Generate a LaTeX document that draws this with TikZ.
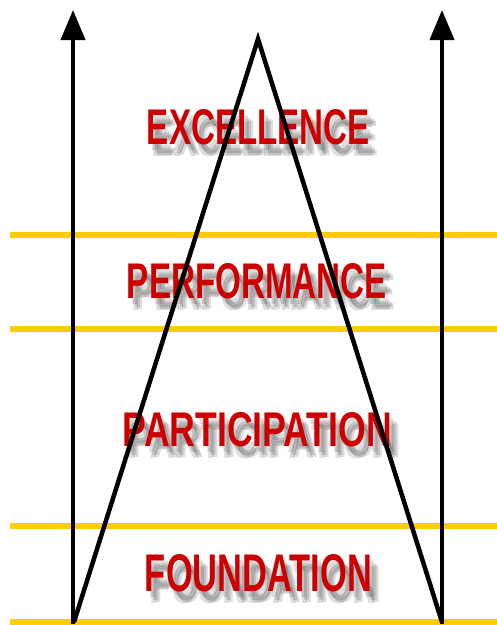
\documentclass[tikz,border=0pt]{standalone}
\usepackage{fontspec}
\setmainfont{Liberation Sans}
\usetikzlibrary{arrows.meta}
\definecolor{gold}{HTML}{FFCC00}
\definecolor{lblred}{HTML}{CC0000}
\tikzset{
  band/.style={gold,line width=6},
  axis/.style={line width=4,-{Triangle[width=24,length=30]}},
  side/.style={line width=4.5,line join=miter},
  shadowtxt/.style={inner sep=0,text=black,opacity=0.13},
  lbl/.style={inner sep=0,text=lblred}
}
\newcommand\pyrlabel[6]{%
  \foreach \dx/\dy in {4/6,7/9,5/12,9/11}{%
    \node[shadowtxt] at (#2+\dx,#3+\dy) {\resizebox{#4pt}{#5pt}{\bfseries #6}};}
  \node[lbl] (#1) at (#2,#3) {\resizebox{#4pt}{#5pt}{\bfseries #6}};}
\begin{document}
\begin{tikzpicture}[x=1pt,y=-1pt]
\useasboundingbox[fill=white] (0,0) rectangle (497,625);
% labels
\pyrlabel{exc}{258.5}{127.5}{223}{35}{EXCELLENCE}
\pyrlabel{perf}{257}{281}{260}{35}{PERFORMANCE}
\pyrlabel{part}{257.5}{430}{269}{34}{PARTICIPATION}
\pyrlabel{found}{258.5}{573.5}{227}{37}{FOUNDATION}
% bands
\coordinate (b1l) at (10,235); \coordinate (b1r) at (497,235);
\coordinate (b2l) at (10,329); \coordinate (b2r) at (497,329);
\coordinate (b3l) at (10,526); \coordinate (b3r) at (497,526);
\coordinate (b4l) at (10,622); \coordinate (b4r) at (497,622);
\draw[band] (b1l) -- (b1r);
\draw[band] (b2l) -- (b2r);
\draw[band] (b3l) -- (b3r);
\draw[band] (b4l) -- (b4r);
% pyramid
\coordinate (bl) at (74,622);
\coordinate (apex) at (258,39);
\coordinate (br) at (442,622);
\draw[side] (bl) -- (apex) -- (br);
% axes
\coordinate (la) at (73,624); \coordinate (lt) at (73,10);
\coordinate (ra) at (442,624); \coordinate (rt) at (442,10);
\draw[axis] (la) -- (lt);
\draw[axis] (ra) -- (rt);
\end{tikzpicture}
\end{document}
